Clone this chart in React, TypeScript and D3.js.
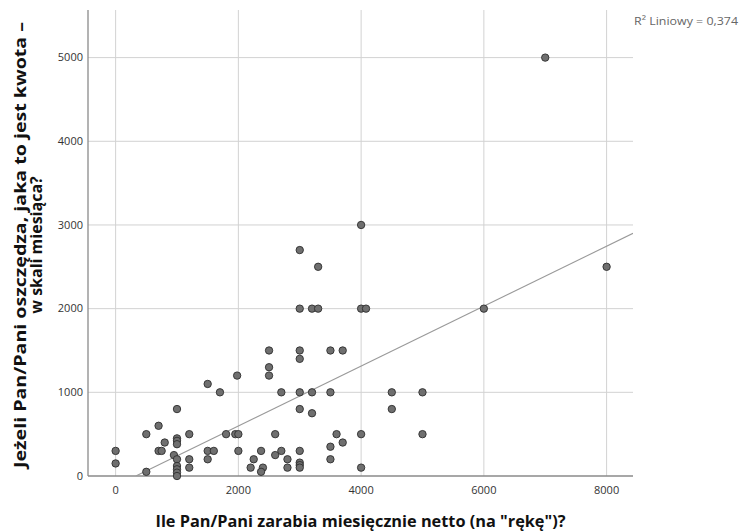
import React from "react";
import * as d3 from "d3";

// Monthly net income (x) and monthly savings (y) per respondent
const incomes = [
  0, 0,
  500, 500,
  700, 700, 750,
  800,
  950,
  1000, 1000, 1000, 1000, 1000, 1000, 1000, 1000, 1000,
  1200, 1200, 1200,
  1500, 1500, 1600, 1500,
  1700,
  1800,
  1950, 2000,
  1980,
  2000,
  2200, 2250, 2370, 2400, 2370,
  2500, 2500, 2500,
  2600, 2600,
  2700, 2700,
  2800, 2800,
  3000, 3000, 3000, 3000, 3000, 3000, 3000, 3000, 3000, 3000,
  3200, 3200, 3200,
  3300, 3300,
  3500, 3500, 3500, 3500,
  3600,
  3700, 3700,
  4000, 4000, 4080, 4000, 4000,
  4500, 4500,
  5000, 5000,
  6000,
  7000,
  8000,
];

const savings = [
  300, 150,
  500, 50,
  600, 300, 300,
  400,
  250,
  800, 450, 420, 380, 200, 120, 80, 40, 0,
  500, 200, 100,
  1100, 300, 300, 200,
  1000,
  500,
  500, 500,
  1200,
  300,
  100, 200, 300, 100, 50,
  1500, 1300, 1200,
  500, 250,
  1000, 300,
  200, 100,
  2700, 2000, 1500, 1400, 1000, 800, 300, 160, 130, 100,
  2000, 1000, 750,
  2500, 2000,
  1500, 1000, 350, 200,
  500,
  1500, 400,
  3000, 2000, 2000, 500, 100,
  1000, 800,
  1000, 500,
  2000,
  5000,
  2500,
];

const xTicks = [0, 2000, 4000, 6000, 8000];
const yTicks = [0, 1000, 2000, 3000, 4000, 5000];

// Linear fit of savings on income
const FIT_INTERCEPT = -118;
const FIT_SLOPE = 0.358;
const FIT_LABEL = "R² Liniowy = 0,374";

const X_TITLE = 'Ile Pan/Pani zarabia miesięcznie netto (na "rękę")?';
const Y_TITLE_LINES = ["Jeżeli Pan/Pani oszczędza, jaka to jest kwota –", "w skali miesiąca?"];

const W = 740;
const H = 532;
const plot = { left: 88, right: 633, top: 12, bottom: 476 };

export default function App() {
  const x = d3.scaleLinear().domain([-450, 8430]).range([plot.left, plot.right]);
  const y = d3.scaleLinear().domain([0, 5545]).range([plot.bottom, plot.top]);

  const [xMin, xMax] = x.domain();
  const fitStart = Math.max(xMin, -FIT_INTERCEPT / FIT_SLOPE);
  const fitLine = d3
    .line<number>()
    .x((d) => x(d))
    .y((d) => y(FIT_INTERCEPT + FIT_SLOPE * d))([fitStart, xMax]);

  const tickFont = "'Open Sans', 'DejaVu Sans', sans-serif";
  const titleFont = "'Open Sans', 'DejaVu Sans', sans-serif";

  return (
    <svg
      width={W}
      height={H}
      viewBox={`0 0 ${W} ${H}`}
      style={{ position: "absolute", left: 0, top: 0, background: "#fff" }}
    >
      <defs>
        <clipPath id="plot-clip">
          <rect x={plot.left} y={plot.top} width={plot.right - plot.left} height={plot.bottom - plot.top} />
        </clipPath>
      </defs>

      {/* grid */}
      <g stroke="#d2d2d2" strokeWidth={1}>
        {xTicks.map((t) => (
          <line key={`gx${t}`} x1={x(t)} x2={x(t)} y1={plot.top - 2} y2={plot.bottom} />
        ))}
        {yTicks
          .filter((t) => t > 0)
          .map((t) => (
            <line key={`gy${t}`} x1={plot.left} x2={plot.right} y1={y(t)} y2={y(t)} />
          ))}
      </g>

      {/* axes */}
      <line x1={plot.left} x2={plot.left} y1={plot.top - 2} y2={plot.bottom} stroke="#8a8a8a" strokeWidth={1.3} />
      <line x1={plot.left} x2={plot.right} y1={plot.bottom} y2={plot.bottom} stroke="#8a8a8a" strokeWidth={1.3} />

      {/* fit line */}
      <path d={fitLine ?? ""} fill="none" stroke="#9a9a9a" strokeWidth={1.1} clipPath="url(#plot-clip)" />

      {/* points */}
      <g fill="#6f6f6f" stroke="#2e2e2e" strokeWidth={0.9}>
        {incomes.map((v, i) => (
          <circle key={i} cx={x(v)} cy={y(savings[i])} r={3.7} />
        ))}
      </g>

      {/* tick labels */}
      <g fontFamily={tickFont} fontSize={11} fill="#333">
        {yTicks.map((t) => (
          <text key={`ty${t}`} x={plot.left - 5} y={y(t)} dy="0.35em" textAnchor="end">
            {t}
          </text>
        ))}
        {xTicks.map((t) => (
          <text key={`tx${t}`} x={x(t)} y={plot.bottom + 18} textAnchor="middle">
            {t}
          </text>
        ))}
      </g>

      {/* axis titles */}
      <text
        x={(plot.left + plot.right) / 2}
        y={527}
        textAnchor="middle"
        fontFamily={titleFont}
        fontWeight="bold"
        fontSize={16}
        fill="#111"
        textLength={410}
        lengthAdjust="spacingAndGlyphs"
      >
        {X_TITLE}
      </text>
      <g transform={`translate(26, ${(plot.top + plot.bottom) / 2 + 1}) rotate(-90)`}>
        <text
          x={0}
          y={0}
          textAnchor="middle"
          fontFamily={titleFont}
          fontWeight="bold"
          fontSize={16}
          fill="#111"
          textLength={446}
          lengthAdjust="spacingAndGlyphs"
        >
          {Y_TITLE_LINES[0]}
        </text>
        <text
          x={0}
          y={16}
          textAnchor="middle"
          fontFamily={titleFont}
          fontWeight="bold"
          fontSize={16}
          fill="#111"
        >
          {Y_TITLE_LINES[1]}
        </text>
      </g>

      {/* fit annotation */}
      <text x={634} y={25} fontFamily={tickFont} fontSize={11.5} fill="#666" textLength={104} lengthAdjust="spacingAndGlyphs">
        {FIT_LABEL}
      </text>
    </svg>
  );
}
